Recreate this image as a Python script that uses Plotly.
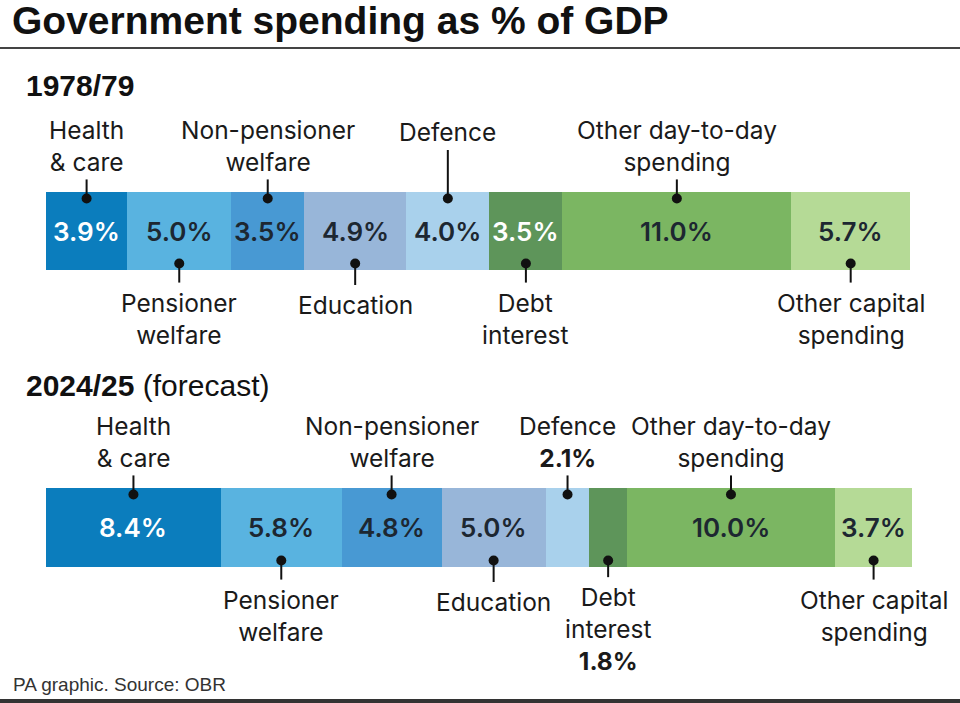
import plotly.graph_objects as go

# ---------------- data ----------------
categories = ["Health & care", "Pensioner welfare", "Non-pensioner welfare", "Education",
              "Defence", "Debt interest", "Other day-to-day spending", "Other capital spending"]
label_text = ["Health<br>& care", "Pensioner<br>welfare", "Non-pensioner<br>welfare", "Education",
              "Defence", "Debt<br>interest", "Other day-to-day<br>spending", "Other capital<br>spending"]
periods = ["1978/79", "2024/25"]
period_notes = ["", " (forecast)"]
values_1978 = [3.9, 5.0, 3.5, 4.9, 4.0, 3.5, 11.0, 5.7]
values_2024 = [8.4, 5.8, 4.8, 5.0, 2.1, 1.8, 10.0, 3.7]
series = [values_1978, values_2024]

# ---------------- style ----------------
colors = ["#0B7DBD", "#59B3E0", "#4899D3", "#98B6D9", "#A9D1EC", "#5E955A", "#7BB662", "#B5DA96"]
inside_text_colors = ["#FFFFFF", "#1D2731", "#1D2731", "#1D2731", "#1D2731", "#FFFFFF", "#1D2731", "#1D2731"]
label_side = ["above", "below", "above", "below", "above", "below", "above", "below"]

W, H = 960, 703
PX_PER_UNIT = 20.82
LEFT = 46
bar_center = [231, 527.5]
bar_height = [78, 79]
LABEL_SIZE = 24.5
LINE_GAP = LABEL_SIZE * 1.3     # plotly's multi-line spacing
REF_GAP = 27                    # spacing in the reference layout
LABEL_FONT = "Inter, Liberation Sans, Arial, sans-serif"
HEAD_FONT = "Liberation Sans, Arial, sans-serif"
TXT = "#1A1A1A"

fig = go.Figure()

for i, cat in enumerate(categories):
    fig.add_trace(go.Bar(
        y=bar_center, x=[s[i] for s in series], orientation="h",
        width=bar_height, marker=dict(color=colors[i], line=dict(width=0)),
        name=cat, showlegend=False, hoverinfo="skip"))

annotations = []
shapes = []
dot_x, dot_y = [], []

for p, vals in enumerate(series):
    top = bar_center[p] - bar_height[p] / 2
    bot = bar_center[p] + bar_height[p] / 2
    start = 0.0
    for i, v in enumerate(vals):
        cx = start + v / 2
        start += v
        small = v < 2.5
        # value inside bar
        if not small:
            annotations.append(dict(x=cx, y=bar_center[p], xref="x", yref="y",
                                    text=f"{v:.1f}%", showarrow=False,
                                    font=dict(family=LABEL_FONT, size=26, color=inside_text_colors[i], weight=600),
                                    xanchor="center", yanchor="middle"))
        text = label_text[i]
        if small:
            text += f"<br><b>{v:.1f}%</b>"
        n = len(text.split("<br>"))
        if label_side[i] == "above":
            yc = top - 60 + REF_GAP * (n - 1) / 2
            last = yc + LINE_GAP * (n - 1) / 2
            dy = top + 6.5
            shapes.append(dict(type="line", xref="x", yref="y", x0=cx, x1=cx,
                               y0=dy, y1=last + 18, line=dict(color="#111111", width=2)))
        else:
            yc = bot + 35 + REF_GAP * (n - 1) / 2
            first = yc - LINE_GAP * (n - 1) / 2
            dy = bot - 6.5
            shapes.append(dict(type="line", xref="x", yref="y", x0=cx, x1=cx,
                               y0=dy, y1=first - 20, line=dict(color="#111111", width=2)))
        dot_x.append(cx)
        dot_y.append(dy)
        annotations.append(dict(x=cx, y=yc, xref="x", yref="y", text=text, showarrow=False,
                                font=dict(family=LABEL_FONT, size=LABEL_SIZE, color=TXT),
                                xanchor="center", yanchor="middle", align="center"))

fig.add_trace(go.Scatter(x=dot_x, y=dot_y, mode="markers",
                         marker=dict(size=10, color="#111111"), showlegend=False,
                         hoverinfo="skip", cliponaxis=False))

# headings
def px(x):
    return x / W

def py(y):
    return 1 - y / H

annotations.append(dict(x=px(10), y=py(21), xref="paper", yref="paper", xanchor="left", yanchor="middle",
                        text="<b>Government spending as % of GDP</b>", showarrow=False,
                        font=dict(family=HEAD_FONT, size=39, color="#111111")))
head_y = [86, 385]
for p, per in enumerate(periods):
    annotations.append(dict(x=px(24), y=py(head_y[p]), xref="paper", yref="paper", xanchor="left",
                            yanchor="middle", text=f"<b>{per}</b>{period_notes[p]}", showarrow=False,
                            font=dict(family=HEAD_FONT, size=30, color="#111111")))
annotations.append(dict(x=px(11), y=py(684), xref="paper", yref="paper", xanchor="left", yanchor="middle",
                        text="PA graphic. Source: OBR", showarrow=False,
                        font=dict(family=HEAD_FONT, size=19, color="#333333")))

shapes.append(dict(type="line", xref="paper", yref="paper", x0=0, x1=1, y0=py(48), y1=py(48),
                   line=dict(color="#444444", width=2)))
shapes.append(dict(type="rect", xref="paper", yref="paper", x0=0, x1=1, y0=0, y1=py(699),
                   line=dict(width=0), fillcolor="#333333"))

fig.update_layout(
    width=W, height=H, autosize=False,
    margin=dict(l=0, r=0, t=0, b=0),
    barmode="stack", bargap=0,
    plot_bgcolor="white", paper_bgcolor="white",
    xaxis=dict(range=[-LEFT / PX_PER_UNIT, (W - LEFT) / PX_PER_UNIT], visible=False, fixedrange=True),
    yaxis=dict(range=[H, 0], visible=False, fixedrange=True),
    annotations=annotations, shapes=shapes,
)

fig.write_html("out.html")
